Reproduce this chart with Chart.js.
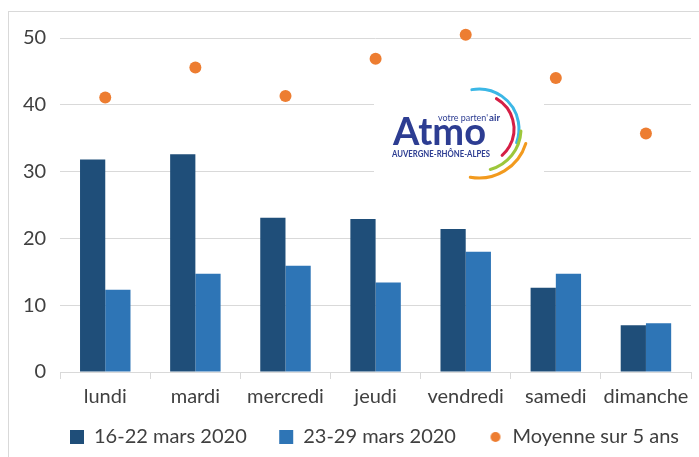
<!DOCTYPE html>
<html>
<head>
<meta charset="utf-8">
<script src="https://cdn.jsdelivr.net/npm/chart.js@4/dist/chart.umd.min.js"></script>
<style>
  html, body { margin: 0; padding: 0; background: #fff; }
  #frame {
    position: absolute; left: 8px; top: 11px;
    width: 691px; height: 446px;
    border-left: 1px solid #d9d9d9; border-top: 1px solid #d9d9d9;
  }
</style>
</head>
<body>
<div id="frame"><canvas id="chart" width="690" height="445"></canvas></div>
<script>
// ===== DATA =====
const days = ['lundi', 'mardi', 'mercredi', 'jeudi', 'vendredi', 'samedi', 'dimanche'];
const week1 = [31.8, 32.6, 23.1, 22.9, 21.4, 12.6, 7.0];
const week2 = [12.3, 14.7, 15.9, 13.4, 18.0, 14.7, 7.3];
const average5y = [41.1, 45.6, 41.3, 46.9, 50.5, 44.0, 35.7];
const seriesNames = ['16-22 mars 2020', '23-29 mars 2020', 'Moyenne sur 5 ans'];
const yTicks = [0, 10, 20, 30, 40, 50];

const FONT = 'Lato, "Open Sans", sans-serif';

// small dot used for the average series in the legend
const legendDot = document.createElement('canvas');
legendDot.width = 12;
legendDot.height = 12;
(function () {
    const c = legendDot.getContext('2d');
    c.fillStyle = '#ed7d31';
    c.beginPath();
    c.arc(6, 6, 5, 0, Math.PI * 2);
    c.fill();
})();

// logo drawn on top of the grid, under the marks
const logoPlugin = {
    id: 'atmoLogo',
    beforeDatasetsDraw(chart) {
        const ctx = chart.ctx;
        ctx.save();
        ctx.fillStyle = '#fff';
        ctx.fillRect(365, 77, 170, 95);

        // arcs
        const cx = 470, cy = 117;
        const arcs = [
            { r: 40, a0: -1.75, a1: 0.35, c: '#3bb7e6' },
            { r: 35, a0: -1.05, a1: 0.85, c: '#d51f45' },
            { r: 42, a0: 0.05, a1: 1.3, c: '#9dc73b' },
            { r: 49, a0: 0.3, a1: 1.75, c: '#f29a1e' }
        ];
        ctx.lineWidth = 3;
        ctx.lineCap = 'round';
        arcs.forEach(a => {
            ctx.strokeStyle = a.c;
            ctx.beginPath();
            ctx.arc(cx, cy, a.r, a.a0, a.a1);
            ctx.stroke();
        });

        ctx.fillStyle = '#2d3d92';
        ctx.textBaseline = 'alphabetic';
        ctx.font = 'bold 38px ' + FONT;
        ctx.fillText('Atmo', 384, 133, 96);
        ctx.font = '10px ' + FONT;
        ctx.fillText("votre parten'", 429, 109, 50);
        ctx.font = 'bold 10px ' + FONT;
        ctx.fillText('air', 480, 109, 11);
        ctx.font = 'bold 9px ' + FONT;
        ctx.fillText('AUVERGNE-RHÔNE-ALPES', 383, 145, 98);
        ctx.restore();
    }
};

new Chart(document.getElementById('chart'), {
    type: 'bar',
    data: {
        labels: days,
        datasets: [
            {
                label: seriesNames[0],
                data: week1,
                backgroundColor: '#1f4e79',
                pointStyle: 'rect',
                categoryPercentage: 0.56,
                barPercentage: 1,
                order: 2
            },
            {
                label: seriesNames[1],
                data: week2,
                backgroundColor: '#2e75b6',
                pointStyle: 'rect',
                categoryPercentage: 0.56,
                barPercentage: 1,
                order: 2
            },
            {
                type: 'line',
                label: seriesNames[2],
                data: average5y,
                showLine: false,
                pointStyle: 'circle',
                pointRadius: 6,
                pointBackgroundColor: '#ed7d31',
                pointBorderWidth: 0,
                backgroundColor: '#ed7d31',
                borderColor: '#ed7d31',
                clip: false,
                order: 1
            }
        ]
    },
    options: {
        responsive: false,
        animation: false,
        layout: { padding: { top: 16, right: 8, left: 0, bottom: 0 } },
        plugins: {
            legend: {
                position: 'bottom',
                align: 'end',
                labels: {
                    usePointStyle: true,
                    boxWidth: 14,
                    boxHeight: 14,
                    padding: 12,
                    color: '#404040',
                    font: { family: FONT, size: 20 },
                    sort: (a, b) => a.datasetIndex - b.datasetIndex,
                    generateLabels(chart) {
                        const items = Chart.defaults.plugins.legend.labels.generateLabels(chart);
                        items.forEach(it => {
                            if (it.datasetIndex < 2) it.text = it.text + '    ';
                            if (it.datasetIndex === 2) it.pointStyle = legendDot;
                        });
                        return items;
                    }
                }
            },
            tooltip: { enabled: false }
        },
        scales: {
            x: {
                offset: true,
                grid: {
                    offset: true,
                    drawOnChartArea: false,
                    drawTicks: true,
                    tickLength: 7,
                    color: '#d9d9d9'
                },
                border: { color: '#d9d9d9' },
                ticks: {
                    color: '#404040',
                    padding: 6,
                    maxRotation: 0,
                    autoSkip: false,
                    font: { family: FONT, size: 20 }
                }
            },
            y: {
                min: 0,
                max: 50,
                afterBuildTicks(axis) {
                    axis.ticks = yTicks.map(v => ({ value: v }));
                },
                grid: { color: '#d9d9d9', drawTicks: false },
                border: { display: false },
                ticks: {
                    color: '#404040',
                    padding: 14,
                    font: { family: FONT, size: 20 }
                }
            }
        }
    },
    plugins: [logoPlugin]
});
</script>
</body>
</html>
